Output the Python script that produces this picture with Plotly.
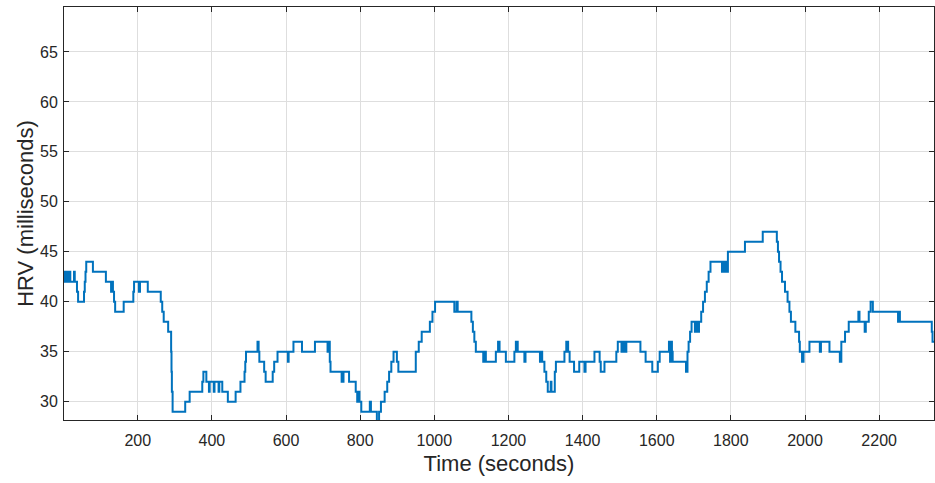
import plotly.graph_objects as go

# Breakpoints of the step-wise HRV trace: time (s) where the value changes, and the new value (ms)
time_s = [
    0, 2, 4, 6, 8, 10, 12, 16, 18, 28,
    30, 36, 39, 55, 57, 59, 61, 79, 114, 128,
    130, 133, 136, 139, 162, 188, 190, 203, 206, 227,
    262, 266, 270, 282, 290, 291, 292, 294, 328, 340,
    374, 377, 385, 392, 394, 405, 407, 418, 420, 428,
    443, 464, 477, 488, 490, 492, 523, 526, 528, 541,
    545, 564, 568, 577, 605, 607, 620, 643, 678, 712,
    715, 718, 720, 750, 755, 770, 788, 792, 795, 798,
    803, 826, 829, 845, 851, 856, 866, 873, 878, 884,
    890, 899, 903, 950, 958, 966, 988, 995, 1002, 1054,
    1060, 1063, 1100, 1104, 1108, 1112, 1132, 1136, 1139, 1166,
    1172, 1176, 1193, 1216, 1220, 1225, 1243, 1246, 1285, 1288,
    1291, 1297, 1302, 1306, 1314, 1316, 1325, 1328, 1351, 1356,
    1361, 1365, 1377, 1391, 1405, 1408, 1432, 1446, 1449, 1459,
    1491, 1495, 1505, 1508, 1513, 1518, 1556, 1570, 1588, 1603,
    1608, 1633, 1636, 1638, 1641, 1643, 1679, 1683, 1686, 1690,
    1694, 1703, 1708, 1710, 1714, 1720, 1725, 1730, 1735, 1740,
    1745, 1776, 1779, 1782, 1785, 1788, 1792, 1838, 1886, 1924,
    1927, 1930, 1934, 1938, 1946, 1953, 1958, 1962, 1974, 1984,
    1986, 1992, 1996, 2012, 2040, 2043, 2066, 2094, 2098, 2108,
    2118, 2144, 2147, 2161, 2164, 2172, 2177, 2183, 2251, 2253,
    2256, 2342, 2344, 2348,
]
hrv_ms = [
    42, 43, 42, 43, 42, 43, 42, 43, 42, 43,
    42, 41, 40, 41, 42, 43, 44, 43, 42, 41,
    42, 41, 40, 39, 40, 41, 42, 41, 42, 41,
    40, 39, 38, 37, 35, 33, 31, 29, 30, 31,
    32, 33, 32, 31, 32, 31, 32, 31, 32, 31,
    30, 31, 32, 33, 34, 35, 36, 35, 34, 33,
    32, 33, 34, 35, 34, 35, 36, 35, 36, 35,
    36, 34, 33, 32, 33, 32, 31, 30, 31, 30,
    29, 30, 29, 28, 29, 30, 31, 32, 33, 34,
    35, 34, 33, 35, 36, 37, 38, 39, 40, 39,
    40, 39, 38, 37, 36, 35, 34, 35, 34, 35,
    36, 35, 34, 35, 36, 35, 34, 35, 34, 35,
    34, 33, 32, 31, 32, 31, 33, 34, 35, 36,
    35, 34, 33, 34, 33, 34, 35, 34, 33, 34,
    35, 36, 35, 36, 35, 36, 35, 34, 33, 34,
    35, 36, 34, 36, 35, 34, 33, 35, 36, 37,
    38, 37, 38, 37, 38, 39, 40, 41, 42, 43,
    44, 43, 44, 43, 44, 43, 45, 46, 47, 46,
    45, 44, 43, 42, 41, 40, 39, 38, 37, 36,
    35, 34, 35, 36, 35, 36, 35, 34, 36, 37,
    38, 39, 38, 37, 38, 39, 40, 39, 38, 39,
    38, 37, 36, 36,
]

x_ticks = [200, 400, 600, 800, 1000, 1200, 1400, 1600, 1800, 2000, 2200]
y_ticks = [30, 35, 40, 45, 50, 55, 60, 65]

FONT = "Liberation Sans, Arial, sans-serif"
INK = "#262626"

fig = go.Figure()
fig.add_trace(go.Scatter(
    x=time_s, y=hrv_ms, mode="lines", line_shape="hv",
    line=dict(color="#0072BD", width=2), showlegend=False,
))

axis_common = dict(
    showline=True, linecolor=INK, linewidth=1, mirror="ticks",
    ticks="inside", ticklen=5, tickcolor=INK,
    showgrid=True, gridcolor="#dedede", gridwidth=1, zeroline=False,
    automargin=False,
    tickfont=dict(family=FONT, size=16, color=INK),
)

fig.update_layout(
    width=935, height=483,
    margin=dict(l=64, r=1, t=7, b=63),
    paper_bgcolor="white", plot_bgcolor="white",
    xaxis=dict(range=[1, 2348], tickvals=x_ticks, ticklabelstandoff=6,
               title=dict(text="Time (seconds)", standoff=7,
                          font=dict(family=FONT, size=22, color=INK)),
               **axis_common),
    yaxis=dict(range=[28.17, 69.5], tickvals=y_ticks, ticklabelstandoff=2,
               title=dict(text="HRV (milliseconds)", standoff=0,
                          font=dict(family=FONT, size=22, color=INK)),
               **axis_common),
)

# remove the default 8px page margin so the 935x483 figure fills the window exactly
fig.write_html(
    "out.html",
    config={"displayModeBar": False},
    post_script="document.body.style.margin='0';document.body.style.overflow='hidden';",
)
